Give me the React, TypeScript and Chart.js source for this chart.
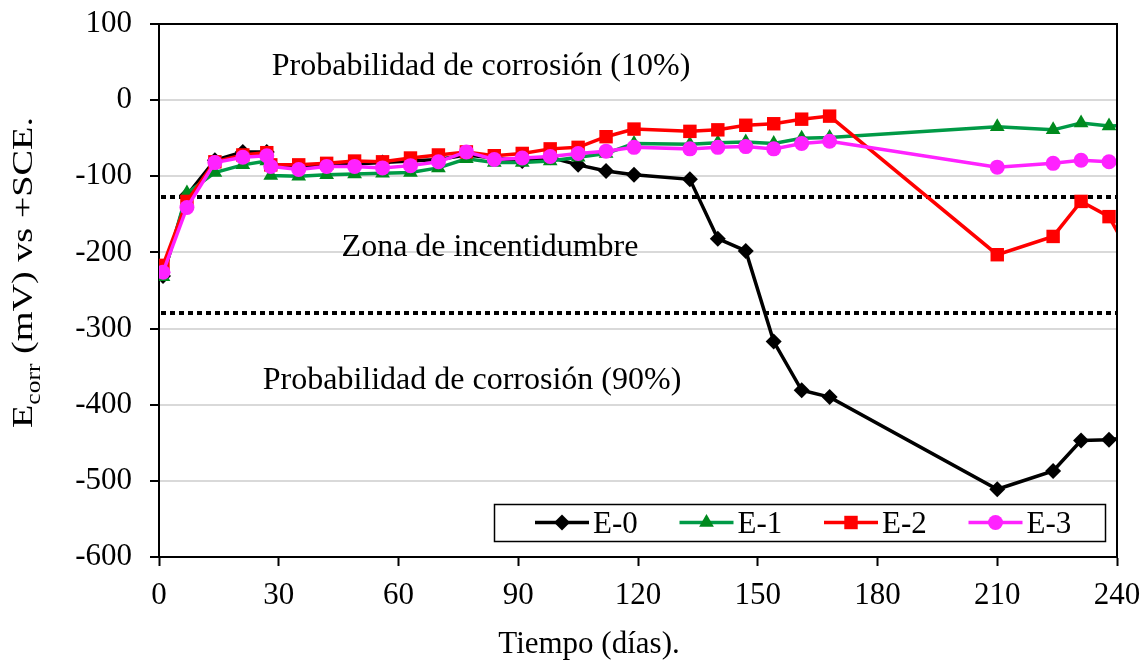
import React, { useEffect, useRef } from 'react';
import { Chart, registerables } from 'chart.js';
import { drawPoint } from 'chart.js/helpers';

Chart.register(...registerables);

const FONT = '"Liberation Serif", "Times New Roman", serif';

// ---- data ----
const days = [1, 7, 14, 21, 27, 28, 35, 42, 49, 56, 63, 70, 77, 84, 91, 98, 105, 112, 119, 133, 140, 147, 154, 161, 168, 210, 224, 231, 238, 245];
const e0 = [-231, -125, -79, -68, -68, -84, -88, -86, -84, -82, -80, -78, -72, -76, -80, -75, -85, -93, -98, -104, -182, -198, -317, -381, -390, -511, -487, -447, -446, -442];
const e1 = [-232, -122, -95, -85, -80, -99, -100, -98, -97, -96, -95, -89, -77, -82, -82, -80, -75, -70, -57, -58, -56, -55, -57, -50, -49, -35, -39, -30, -34, -33];
const e2 = [-217, -133, -81, -72, -69, -85, -85, -83, -80, -81, -76, -72, -68, -73, -70, -64, -62, -48, -38, -41, -39, -33, -31, -25, -21, -203, -179, -133, -153, -220];
const e3 = [-226, -141, -82, -75, -73, -87, -91, -87, -87, -89, -86, -81, -68, -78, -76, -74, -70, -67, -62, -64, -62, -61, -64, -57, -54, -88, -83, -79, -81, -84];

const seriesNames = ['E-0', 'E-1', 'E-2', 'E-3'];
const xTicks = [0, 30, 60, 90, 120, 150, 180, 210, 240];
const thresholds = [-127, -280];
const zoneLabels = ['Probabilidad de corrosión (10%)', 'Zona de incentidumbre', 'Probabilidad de corrosión (90%)'];
const xTitle = 'Tiempo (días).';
const yTitleMain = 'E';
const yTitleSub = 'corr';
const yTitleRest = ' (mV) vs +SCE.';

const styles = [
  { line: '#000000', point: '#000000', pointStyle: 'rectRot', radius: 8 },
  { line: '#009A46', point: '#008A1E', pointStyle: 'triangle', radius: 8.5 },
  { line: '#FF0000', point: '#FF0000', pointStyle: 'rect', radius: 9.5 },
  { line: '#FF22FF', point: '#FF22FF', pointStyle: 'circle', radius: 7.5 },
];
const seriesValues = [e0, e1, e2, e3];

const zonePos = [
  { x: 481, y: 75 },
  { x: 490, y: 256 },
  { x: 472, y: 389 },
];

const overlay = {
  id: 'overlay',
  beforeDatasetsDraw(chart: any) {
    const { ctx, chartArea, scales } = chart;
    ctx.save();
    ctx.beginPath();
    ctx.rect(chartArea.left, chartArea.top, chartArea.right - chartArea.left, chartArea.bottom - chartArea.top);
    ctx.clip();
    ctx.strokeStyle = '#000';
    ctx.lineWidth = 4;
    ctx.setLineDash([5, 4]);
    thresholds.forEach((v) => {
      const y = Math.round(scales.y.getPixelForValue(v));
      ctx.beginPath();
      ctx.moveTo(chartArea.left + 2, y);
      ctx.lineTo(chartArea.right, y);
      ctx.stroke();
    });
    ctx.setLineDash([]);
    ctx.fillStyle = '#000';
    ctx.font = `32px ${FONT}`;
    ctx.textAlign = 'center';
    ctx.textBaseline = 'alphabetic';
    zoneLabels.forEach((t, i) => ctx.fillText(t, zonePos[i].x, zonePos[i].y));
    ctx.restore();
  },
  afterDraw(chart: any) {
    const { ctx, chartArea } = chart;
    ctx.save();
    // frame top/right
    ctx.strokeStyle = '#000';
    ctx.lineWidth = 2;
    ctx.beginPath();
    ctx.moveTo(chartArea.left, chartArea.top);
    ctx.lineTo(chartArea.right, chartArea.top);
    ctx.lineTo(chartArea.right, chartArea.bottom);
    ctx.stroke();

    // legend
    const bx = 494, by = 504, bw = 611, bh = 37;
    ctx.lineWidth = 1.5;
    ctx.strokeRect(bx + 0.5, by + 0.5, bw, bh);
    const cy = by + bh / 2;
    seriesNames.forEach((name, i) => {
      const x0 = 535 + i * 144.5;
      const s = styles[i];
      ctx.strokeStyle = s.line;
      ctx.lineWidth = 3.5;
      ctx.beginPath();
      ctx.moveTo(x0, cy);
      ctx.lineTo(x0 + 54, cy);
      ctx.stroke();
      ctx.fillStyle = s.point;
      ctx.strokeStyle = s.point;
      drawPoint(ctx, { pointStyle: s.pointStyle, radius: s.radius, rotation: 0, borderWidth: 0 } as any, x0 + 27, cy);
      ctx.fillStyle = '#000';
      ctx.font = `31px ${FONT}`;
      ctx.textAlign = 'left';
      ctx.textBaseline = 'alphabetic';
      ctx.fillText(name, x0 + 58, by + 29);
    });

    // x title
    ctx.fillStyle = '#000';
    ctx.font = `31px ${FONT}`;
    ctx.textAlign = 'center';
    ctx.fillText(xTitle, 589, 653);

    // y title (rotated with subscript)
    ctx.translate(32, 272.5);
    ctx.rotate(-Math.PI / 2);
    ctx.textAlign = 'left';
    ctx.font = `30px ${FONT}`;
    const wE = ctx.measureText(yTitleMain).width;
    const wR = ctx.measureText(yTitleRest).width;
    ctx.font = `20px ${FONT}`;
    const wS = ctx.measureText(yTitleSub).width;
    const total = wE + wS + wR;
    const sx = 311 / total;
    ctx.scale(sx, 1);
    const start = -total / 2;
    ctx.font = `30px ${FONT}`;
    ctx.fillText(yTitleMain, start, 0);
    ctx.font = `20px ${FONT}`;
    ctx.fillText(yTitleSub, start + wE, 8);
    ctx.font = `30px ${FONT}`;
    ctx.fillText(yTitleRest, start + wE + wS, 0);
    ctx.restore();
  },
};

export default function App() {
  const ref = useRef<HTMLCanvasElement>(null);
  useEffect(() => {
    if (!ref.current) return;
    const datasets = seriesValues.map((vals, i) => ({
      label: seriesNames[i],
      data: days.map((d, j) => ({ x: d, y: vals[j] })),
      borderColor: styles[i].line,
      backgroundColor: styles[i].point,
      borderWidth: 3.5,
      pointStyle: styles[i].pointStyle as any,
      pointRadius: styles[i].radius,
      pointBackgroundColor: styles[i].point,
      pointBorderColor: styles[i].point,
      pointBorderWidth: 0,
      tension: 0,
      order: 3 - i,
    }));
    const chart = new Chart(ref.current, {
      type: 'line',
      data: { datasets },
      options: {
        animation: false,
        responsive: false,
        maintainAspectRatio: false,
        layout: { padding: { top: 24, right: 31, left: 0, bottom: 0 } },
        plugins: { legend: { display: false }, tooltip: { enabled: false } },
        scales: {
          x: {
            type: 'linear',
            min: 0,
            max: 240,
            afterBuildTicks: (s: any) => {
              s.ticks = xTicks.map((v) => ({ value: v }));
            },
            afterFit: (s: any) => {
              s.height = 104;
              s.paddingLeft = 0;
              s.paddingRight = 0;
            },
            grid: { drawOnChartArea: false, drawTicks: true, tickLength: 9, tickColor: '#000', tickWidth: 2 },
            border: { display: true, color: '#000', width: 2 },
            ticks: { font: { family: FONT, size: 31 }, color: '#000', padding: 11, maxRotation: 0, autoSkip: false },
          },
          y: {
            type: 'linear',
            min: -600,
            max: 100,
            afterFit: (s: any) => {
              s.width = 159;
              s.paddingTop = 0;
              s.paddingBottom = 0;
            },
            grid: {
              color: (c: any) => (c.tick && c.tick.value % 100 === 0 ? '#d9d9d9' : '#f0f0f0'),
              lineWidth: 2,
              drawTicks: true,
              tickLength: 9,
              tickColor: '#000',
              tickWidth: 2,
            },
            border: { display: true, color: '#000', width: 2 },
            ticks: {
              stepSize: 50,
              font: { family: FONT, size: 31 },
              color: '#000',
              padding: 18,
              callback: (v: any) => (Number(v) % 100 === 0 ? String(v) : ''),
            },
          },
        },
      },
      plugins: [overlay],
    });
    return () => chart.destroy();
  }, []);
  return (
    <div style={{ position: 'absolute', left: 0, top: 0, width: 1148, height: 661, background: '#fff' }}>
      <canvas ref={ref} width={1148} height={661} />
    </div>
  );
}
